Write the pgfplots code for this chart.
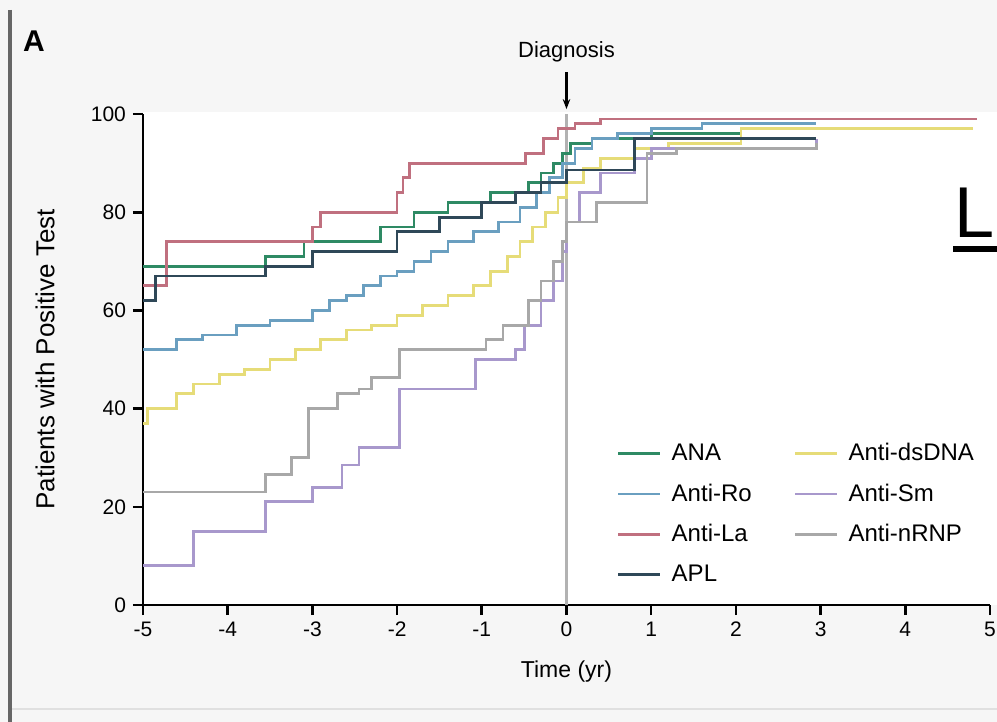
\documentclass[border=0pt]{standalone}
\usepackage{pgfplots}
\pgfplotsset{compat=1.18}
\usetikzlibrary{arrows.meta}
\usepackage{fontspec}
\setmainfont{Liberation Sans}
\definecolor{bgpanel}{HTML}{F6F6F6}
\definecolor{cana}{HTML}{2E8A64}
\definecolor{cro}{HTML}{6A9FC0}
\definecolor{cla}{HTML}{C0707F}
\definecolor{capl}{HTML}{2F4858}
\definecolor{cds}{HTML}{E6DC78}
\definecolor{csm}{HTML}{A898CC}
\definecolor{cnr}{HTML}{A8A8A8}

\begin{document}
\begin{tikzpicture}
\useasboundingbox (0,0) rectangle (498.5pt,-361pt);
\fill[bgpanel] (0,0) rectangle (498.5pt,-361pt);
\fill[white] (71.5pt,-56pt) rectangle (498.5pt,-302.5pt);
\draw[black!60, line width=2pt] (4.75pt,-5pt) -- (4.75pt,-361pt);
\draw[black!12, line width=1pt] (6pt,-354.5pt) -- (498.5pt,-354.5pt);
\node[font=\fontsize{15}{17}\selectfont\bfseries] at (17pt,-20.5pt) {A};
\node[font=\fontsize{36}{38}\selectfont, anchor=base east, inner sep=0pt] at (497.5pt,-118.5pt) {L};
\fill[black] (476.5pt,-123pt) rectangle (498.5pt,-126pt);

\begin{axis}[
    at={(71.5pt,-302.5pt)}, anchor=south west,
    scale only axis, width=423.5pt, height=245.5pt,
    xmin=-5, xmax=5, ymin=0, ymax=100,
    axis x line*=bottom, axis y line*=left,
    axis line style={line width=1.3pt, black},
    xtick={-5,...,5}, xticklabels={-5,-4,-3,-2,-1,0,1,2,3,4,5},
    ytick={0,20,40,60,80,100},
    tick align=outside, major tick length=5pt,
    every tick/.style={black, line width=1.3pt},
    tick label style={font=\fontsize{10.5}{12}\selectfont},
    /pgf/number format/assume math mode=true,
    xlabel={Time (yr)}, ylabel={Patients with Positive Test},
    xlabel style={at={(axis description cs:0.5,-0.1365)}, anchor=center, font=\fontsize{11.5}{13}\selectfont},
    ylabel style={at={(axis description cs:-0.1157,0.5)}, anchor=center, font=\fontsize{13}{15}\selectfont},
    clip=false,
    const plot,
    every axis plot/.append style={line width=1.4pt},
    legend columns=2,
    legend image code/.code={\draw[#1] (0pt,0pt) -- (21pt,0pt);},
    legend cell align=left,
    legend style={at={(axis cs:0.52,34.2)}, anchor=north west, draw=none, fill=none,
        font=\fontsize{12}{14}\selectfont, row sep=8pt, nodes={inner sep=1pt},
        /tikz/every odd column/.append style={column sep=4pt},
        /tikz/every even column/.append style={column sep=20pt}},
]
\draw[black!30, line width=1.3pt] (axis cs:0,0) -- (axis cs:0,100);

% ANA
\addplot[cana] coordinates {
    (-5,69) (-3.55,71) (-3.1,74) (-2.2,77) (-1.8,80) (-1.4,82) (-0.9,84) (-0.45,86)
    (-0.3,88) (-0.15,90) (-0.05,92) (0.05,94) (0.3,95) (1.0,96) (2.06,97) (2.95,97)
};
\addlegendentry{ANA}
% Anti-dsDNA
\addplot[cds] coordinates {
    (-5,37) (-4.95,40) (-4.6,43) (-4.4,45) (-4.1,47) (-3.8,48) (-3.5,50) (-3.2,52)
    (-2.9,54) (-2.6,56) (-2.3,57) (-2.0,59) (-1.7,61) (-1.4,63) (-1.1,65) (-0.9,68)
    (-0.7,71) (-0.55,74) (-0.4,77) (-0.25,80) (-0.1,83) (0,86) (0.2,89) (0.4,91)
    (0.8,93) (1.2,94) (2.06,97) (4.8,97)
};
\addlegendentry{Anti-dsDNA}
% Anti-Ro
\addplot[cro] coordinates {
    (-5,52) (-4.6,54) (-4.3,55) (-3.9,57) (-3.5,58) (-3.0,60) (-2.8,62) (-2.6,63)
    (-2.4,65) (-2.2,67) (-2.0,68) (-1.8,70) (-1.6,72) (-1.4,74) (-1.1,76) (-0.8,78)
    (-0.55,81) (-0.35,84) (-0.2,87) (-0.05,90) (0.1,93) (0.3,95) (0.6,96) (1.0,97)
    (1.6,98) (2.95,98)
};
\addlegendentry{Anti-Ro}
% Anti-Sm
\addplot[csm] coordinates {
    (-5,8) (-4.4,15) (-3.55,21) (-3.0,24) (-2.65,28.5) (-2.45,32) (-1.97,44) (-1.07,50)
    (-0.6,52) (-0.5,57) (-0.3,62) (-0.15,66) (-0.05,72) (0,78) (0.15,84) (0.4,88)
    (0.8,91) (1.0,93) (2.95,95)
};
\addlegendentry{Anti-Sm}
% Anti-La
\addplot[cla] coordinates {
    (-5,65) (-4.72,74) (-3.0,77) (-2.9,80) (-2.0,84) (-1.93,87) (-1.85,90) (-0.48,92)
    (-0.27,95) (-0.1,97) (0.1,98) (0.4,99) (4.85,99)
};
\addlegendentry{Anti-La}
% Anti-nRNP
\addplot[cnr] coordinates {
    (-5,23) (-3.55,26.5) (-3.25,30) (-3.05,40) (-2.7,43) (-2.45,44) (-2.3,46.4) (-1.97,52)
    (-0.95,54) (-0.75,57) (-0.45,62) (-0.3,66) (-0.15,70) (-0.05,74) (0,78) (0.35,82)
    (0.95,92) (1.3,93) (2.95,94)
};
\addlegendentry{Anti-nRNP}
% APL
\addplot[capl] coordinates {
    (-5,62) (-4.85,67) (-3.55,69) (-3.0,72) (-2.0,76) (-1.5,79) (-1.0,82) (-0.6,84)
    (-0.3,86) (0,88.6) (0.8,95) (2.95,95)
};
\addlegendentry{APL}

\node[font=\fontsize{11}{13}\selectfont] at (axis cs:0,112.6) {Diagnosis};
\draw[-{Stealth[length=5pt]}, line width=1.2pt] (axis cs:0,108.5) -- (axis cs:0,101);
\end{axis}
\end{tikzpicture}
\end{document}
